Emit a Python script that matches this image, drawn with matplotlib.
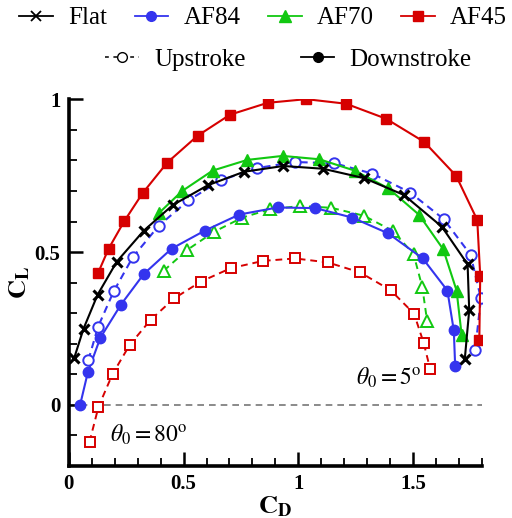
import matplotlib
matplotlib.use("Agg")
import matplotlib.pyplot as plt
from matplotlib.lines import Line2D
from matplotlib.ticker import MultipleLocator

plt.rcParams['font.family'] = ['Liberation Serif', 'DejaVu Serif']
plt.rcParams['mathtext.fontset'] = 'stix'

# Flat plate (single curve)
flat_cd = [0.024, 0.065, 0.126, 0.210, 0.327, 0.453, 0.606, 0.763, 0.934, 1.107,
           1.287, 1.459, 1.624, 1.736, 1.743, 1.724]
flat_cl = [0.152, 0.249, 0.360, 0.469, 0.570, 0.654, 0.719, 0.763, 0.782, 0.773,
           0.742, 0.687, 0.583, 0.460, 0.309, 0.151]

# AF84
af84_dn_cd = [0.050, 0.084, 0.138, 0.228, 0.327, 0.448, 0.592, 0.743, 0.909, 1.073,
              1.234, 1.391, 1.541, 1.648, 1.676, 1.682]
af84_dn_cl = [-0.001, 0.107, 0.219, 0.328, 0.428, 0.511, 0.570, 0.623, 0.646, 0.644,
              0.613, 0.561, 0.479, 0.374, 0.243, 0.125]
af84_up_cd = [0.086, 0.128, 0.196, 0.279, 0.392, 0.521, 0.662, 0.820, 0.983, 1.156,
              1.322, 1.486, 1.632, 1.749, 1.794, 1.769]
af84_up_cl = [0.146, 0.255, 0.371, 0.483, 0.586, 0.669, 0.735, 0.775, 0.795, 0.791,
              0.757, 0.695, 0.608, 0.491, 0.348, 0.179]

# AF70
af70_dn_cd = [0.392, 0.494, 0.627, 0.778, 0.931, 1.091, 1.244, 1.391, 1.525, 1.630,
              1.688, 1.710]
af70_dn_cl = [0.627, 0.700, 0.767, 0.802, 0.815, 0.804, 0.767, 0.709, 0.622, 0.509,
              0.374, 0.229]
af70_up_cd = [0.414, 0.516, 0.632, 0.756, 0.876, 1.008, 1.143, 1.285, 1.411, 1.501,
              1.539, 1.560]
af70_up_cl = [0.439, 0.507, 0.566, 0.613, 0.640, 0.651, 0.645, 0.619, 0.569, 0.493,
              0.385, 0.273]

# AF45
af45_dn_cd = [0.128, 0.174, 0.242, 0.322, 0.429, 0.561, 0.702, 0.866, 1.034, 1.207,
              1.381, 1.547, 1.686, 1.778, 1.791, 1.787]
af45_dn_cl = [0.431, 0.511, 0.601, 0.693, 0.793, 0.881, 0.950, 0.989, 1.001, 0.986,
              0.937, 0.861, 0.750, 0.605, 0.422, 0.213]
af45_up_cd = [0.091, 0.130, 0.191, 0.266, 0.357, 0.459, 0.575, 0.705, 0.846, 0.986,
              1.128, 1.269, 1.401, 1.503, 1.545, 1.573]
af45_up_cl = [-0.122, -0.007, 0.100, 0.196, 0.278, 0.348, 0.403, 0.447, 0.471, 0.479,
              0.466, 0.433, 0.375, 0.298, 0.202, 0.117]

blue = '#3434ee'
green = '#11c811'
red = '#d60000'
dash = (3.5, 2.5)

fig = plt.figure(figsize=(5.12, 5.18), dpi=100)
ax = fig.add_axes([0.134, 0.101, 0.808, 0.707])

ax.axhline(0, color='#777777', lw=1.2, ls=(0, (4, 3)), zorder=1)

ms = 7
ax.plot(af45_up_cd, af45_up_cl, color=red, ls=(0, dash), lw=1.4, marker='s', ms=ms,
        mfc='white', mec=red, mew=1.4, zorder=3)
ax.plot(af70_up_cd, af70_up_cl, color=green, ls=(0, dash), lw=1.4, marker='^', ms=ms + 1,
        mfc='white', mec=green, mew=1.4, zorder=3)
ax.plot(af84_dn_cd, af84_dn_cl, color=blue, lw=1.5, marker='o', ms=ms + 0.5,
        mfc=blue, mec=blue, zorder=4)
ax.plot(af84_up_cd, af84_up_cl, color=blue, ls=(0, dash), lw=1.5, marker='o', ms=ms + 0.5,
        mfc='white', mec=blue, mew=1.4, zorder=4)
ax.plot(af70_dn_cd, af70_dn_cl, color=green, lw=1.5, marker='^', ms=ms + 1,
        mfc=green, mec=green, zorder=5)
ax.plot(flat_cd, flat_cl, color='black', lw=1.5, marker='x', ms=ms, mew=2.2, zorder=6)
ax.plot(af45_dn_cd, af45_dn_cl, color=red, lw=1.5, marker='s', ms=ms,
        mfc=red, mec=red, zorder=5)

ax.set_xlim(0, 1.8)
ax.set_ylim(-0.2, 1.0)
ax.xaxis.set_minor_locator(MultipleLocator(0.1))
ax.yaxis.set_minor_locator(MultipleLocator(0.1))
ax.set_xticks([0, 0.5, 1, 1.5])
ax.set_xticklabels(['0', '0.5', '1', '1.5'])
ax.set_yticks([0, 0.5, 1])
ax.set_yticklabels(['0', '0.5', '1'])
ax.tick_params(which='major', direction='in', length=10, width=1.8, labelsize=15, pad=6)
ax.tick_params(which='minor', direction='in', length=5.5, width=1.3)
for lab in ax.get_xticklabels() + ax.get_yticklabels():
    lab.set_fontweight('bold')
for s in ['top', 'right']:
    ax.spines[s].set_visible(False)
for s in ['left', 'bottom']:
    ax.spines[s].set_linewidth(2.6)

ax.set_xlabel(r'$\mathbf{C_D}$', fontsize=19, labelpad=0)
ax.set_ylabel(r'$\mathbf{C_L}$', fontsize=19, labelpad=2)

ax.text(1.25, 0.065, r'$\theta_0 = 5^{\rm o}$', fontsize=17)
ax.text(0.18, -0.12, r'$\theta_0 = 80^{\rm o}$', fontsize=17)

h1 = [Line2D([], [], color='black', marker='x', ms=7, mew=1.3, lw=1.3),
      Line2D([], [], color=blue, marker='o', ms=7, lw=1.3),
      Line2D([], [], color=green, marker='^', ms=8, lw=1.3),
      Line2D([], [], color=red, marker='s', ms=7, lw=1.3)]
fig.legend(h1, ['Flat', 'AF84', 'AF70', 'AF45'], loc='center', ncol=4,
           bbox_to_anchor=(0.514, 0.965), frameon=False, fontsize=18,
           handlelength=1.35, handletextpad=0.6, columnspacing=1.1,
           borderpad=0, borderaxespad=0)
h2 = [Line2D([], [], color='black', ls=(0, (2.5, 3)), marker='o', ms=7, mfc='white', lw=1.1),
      Line2D([], [], color='black', marker='o', ms=7, lw=1.3)]
fig.legend(h2, ['Upstroke', 'Downstroke'], loc='center', ncol=2,
           bbox_to_anchor=(0.5635, 0.885), frameon=False, fontsize=18,
           handlelength=1.35, handletextpad=0.6, columnspacing=2.2,
           borderpad=0, borderaxespad=0)

fig.savefig('out.png', dpi=100)
